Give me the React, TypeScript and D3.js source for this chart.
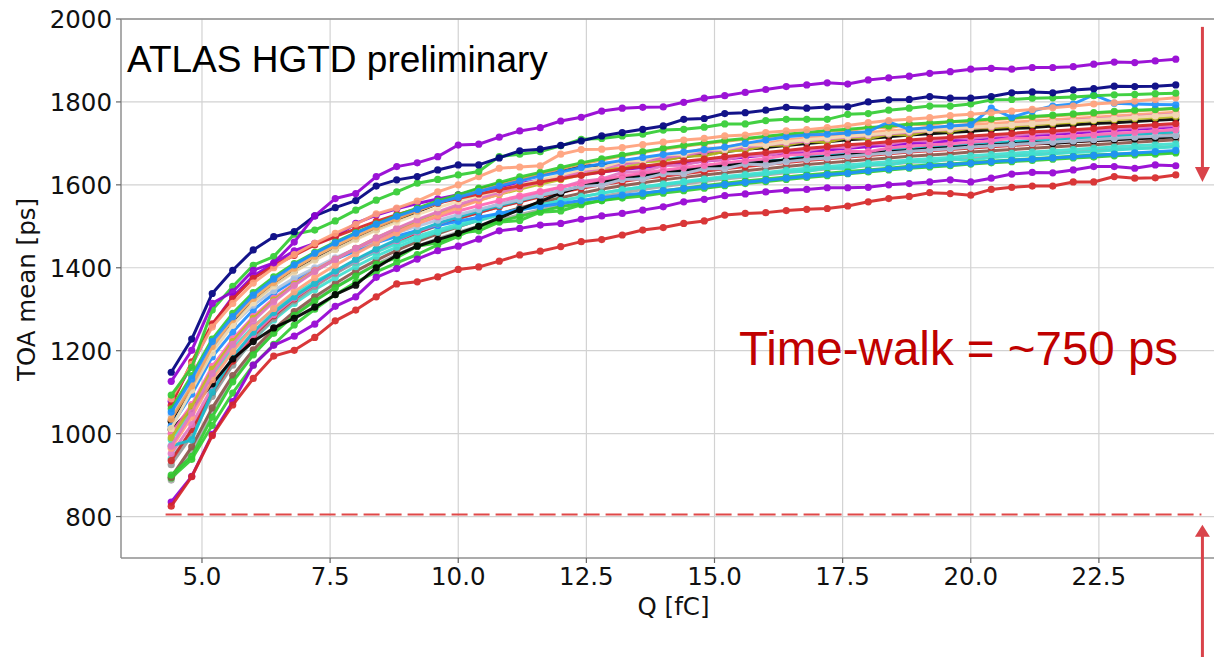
import React from "react";
import * as d3 from "d3";

// Q [fC] sampling points
const charge = [
  4.4, 4.8, 5.2, 5.6, 6.0, 6.4, 6.8, 7.2, 7.6, 8.0,
  8.4, 8.8, 9.2, 9.6, 10.0, 10.4, 10.8, 11.2, 11.6, 12.0,
  12.4, 12.8, 13.2, 13.6, 14.0, 14.4, 14.8, 15.2, 15.6, 16.0,
  16.4, 16.8, 17.2, 17.6, 18.0, 18.4, 18.8, 19.2, 19.6, 20.0,
  20.4, 20.8, 21.2, 21.6, 22.0, 22.4, 22.8, 23.2, 23.6, 24.0,
];

const xTicks = [5, 7.5, 10, 12.5, 15, 17.5, 20, 22.5];
const yTicks = [800, 1000, 1200, 1400, 1600, 1800, 2000];

// TOA mean [ps] per channel
const violetTop = [
  1126, 1201, 1314, 1342, 1394, 1412, 1462, 1525, 1567, 1579,
  1620, 1644, 1653, 1668, 1696, 1698, 1715, 1730, 1738, 1754,
  1763, 1778, 1785, 1787, 1788, 1799, 1809, 1815, 1823, 1830,
  1837, 1841, 1846, 1843, 1853, 1858, 1862, 1869, 1873, 1879,
  1881, 1879, 1883, 1883, 1885, 1891, 1896, 1895, 1899, 1903,
];
const navyTop = [
  1148, 1228, 1338, 1394, 1443, 1475, 1487, 1525, 1545, 1562,
  1597, 1612, 1620, 1636, 1648, 1648, 1665, 1682, 1686, 1695,
  1706, 1718, 1726, 1734, 1742, 1758, 1760, 1772, 1774, 1780,
  1787, 1785, 1788, 1788, 1800, 1805, 1806, 1813, 1809, 1809,
  1813, 1822, 1824, 1822, 1829, 1832, 1838, 1837, 1838, 1841,
];
const redBottom = [
  825, 896, 995, 1069, 1133, 1187, 1201, 1232, 1272, 1298,
  1330, 1361, 1366, 1378, 1396, 1402, 1416, 1431, 1440, 1451,
  1463, 1468, 1479, 1491, 1497, 1507, 1513, 1527, 1531, 1533,
  1538, 1541, 1543, 1549, 1559, 1567, 1572, 1581, 1579, 1575,
  1589, 1594, 1597, 1597, 1607, 1607, 1620, 1616, 1617, 1624,
];
const violetBottom = [
  835, 897, 998, 1077, 1165, 1213, 1235, 1264, 1307, 1330,
  1377, 1398, 1421, 1441, 1452, 1469, 1489, 1495, 1503, 1507,
  1517, 1525, 1531, 1539, 1547, 1559, 1565, 1574, 1578, 1583,
  1587, 1589, 1593, 1593, 1594, 1600, 1603, 1607, 1612, 1607,
  1616, 1626, 1630, 1629, 1636, 1644, 1644, 1640, 1648, 1646,
];
const greenTop = [
  1093, 1160, 1298, 1355, 1406, 1427, 1481, 1491, 1513, 1539,
  1563, 1583, 1604, 1613, 1624, 1632, 1668, 1674, 1680, 1694,
  1710, 1712, 1718, 1722, 1732, 1734, 1739, 1747, 1747, 1755,
  1758, 1758, 1758, 1770, 1772, 1780, 1785, 1790, 1790, 1795,
  1805, 1806, 1809, 1810, 1812, 1815, 1817, 1818, 1820, 1821,
];
const salmonA = [
  1084, 1167, 1257, 1314, 1363, 1400, 1432, 1459, 1483, 1505,
  1530, 1544, 1561, 1583, 1600, 1620, 1640, 1643, 1646, 1674,
  1685, 1686, 1690, 1697, 1703, 1708, 1712, 1718, 1720, 1726,
  1730, 1733, 1738, 1743, 1750, 1755, 1758, 1762, 1767, 1770,
  1774, 1778, 1782, 1786, 1790, 1795, 1798, 1802, 1806, 1810,
];
const blueSpiky = [
  1052, 1132, 1222, 1282, 1334, 1373, 1407, 1435, 1460, 1483,
  1505, 1524, 1541, 1557, 1570, 1584, 1597, 1609, 1621, 1631,
  1642, 1651, 1659, 1666, 1673, 1679, 1685, 1691, 1700, 1708,
  1716, 1720, 1722, 1725, 1728, 1752, 1734, 1738, 1742, 1745,
  1785, 1763, 1778, 1790, 1795, 1817, 1797, 1795, 1794, 1793,
];
const redUpper = [
  1068, 1173, 1265, 1325, 1374, 1405, 1430, 1455, 1475, 1494,
  1512, 1528, 1542, 1556, 1567, 1578, 1588, 1598, 1607, 1615,
  1623, 1631, 1638, 1645, 1651, 1657, 1662, 1668, 1673, 1678,
  1683, 1688, 1692, 1697, 1700, 1704, 1708, 1712, 1714, 1718,
  1721, 1724, 1728, 1730, 1733, 1736, 1740, 1742, 1745, 1748,
];
const blackLower = [
  1010, 1060, 1120, 1180, 1222, 1255, 1278, 1305, 1335, 1358,
  1400, 1430, 1452, 1468, 1483, 1500, 1520, 1540, 1560, 1580,
  1597, 1608, 1616, 1624, 1630, 1636, 1641, 1647, 1651, 1656,
  1660, 1664, 1668, 1672, 1676, 1680, 1683, 1687, 1690, 1693,
  1696, 1699, 1702, 1700, 1704, 1707, 1709, 1711, 1713, 1716,
];
const blackUpper = [
  1030, 1110, 1200, 1265, 1318, 1358, 1392, 1420, 1445, 1470,
  1492, 1515, 1535, 1555, 1575, 1590, 1602, 1612, 1626, 1636,
  1644, 1648, 1652, 1656, 1662, 1668, 1674, 1680, 1686, 1690,
  1695, 1700, 1704, 1709, 1712, 1716, 1720, 1723, 1726, 1729,
  1733, 1736, 1738, 1742, 1745, 1748, 1750, 1753, 1756, 1758,
];
const olive = [
  990, 1065, 1155, 1222, 1278, 1322, 1360, 1392, 1420, 1447,
  1472, 1494, 1514, 1532, 1548, 1563, 1577, 1590, 1602, 1613,
  1624, 1638, 1640, 1655, 1658, 1669, 1670, 1681, 1684, 1695,
  1696, 1705, 1703, 1714, 1712, 1722, 1720, 1731, 1729, 1737,
  1738, 1741, 1745, 1748, 1751, 1755, 1757, 1760, 1762, 1765,
];
const pinkA = [
  952, 1022, 1112, 1183, 1240, 1287, 1327, 1360, 1390, 1418,
  1443, 1466, 1487, 1506, 1523, 1539, 1554, 1568, 1581, 1594,
  1608, 1614, 1630, 1632, 1646, 1647, 1659, 1660, 1671, 1670,
  1681, 1682, 1691, 1690, 1699, 1698, 1707, 1706, 1714, 1712,
  1717, 1720, 1723, 1726, 1730, 1732, 1735, 1738, 1741, 1744,
];
const turquoiseA = [
  940, 1005, 1095, 1167, 1226, 1274, 1314, 1347, 1376, 1403,
  1428, 1450, 1469, 1486, 1500, 1514, 1527, 1539, 1550, 1561,
  1571, 1580, 1588, 1595, 1600, 1606, 1612, 1617, 1622, 1626,
  1632, 1632, 1641, 1639, 1649, 1647, 1657, 1654, 1663, 1659,
  1666, 1669, 1672, 1675, 1678, 1680, 1684, 1687, 1689, 1692,
];
const grayA = [
  888, 958, 1055, 1130, 1192, 1244, 1287, 1322, 1353, 1382,
  1408, 1432, 1452, 1470, 1486, 1501, 1515, 1528, 1540, 1551,
  1562, 1572, 1581, 1589, 1596, 1602, 1608, 1614, 1619, 1624,
  1629, 1634, 1638, 1642, 1646, 1650, 1654, 1657, 1660, 1664,
  1667, 1670, 1673, 1676, 1679, 1682, 1685, 1688, 1690, 1693,
];
const cyanA = [
  970, 985, 1100, 1185, 1245, 1292, 1330, 1362, 1392, 1420,
  1445, 1468, 1489, 1507, 1522, 1537, 1550, 1562, 1574, 1585,
  1596, 1606, 1615, 1622, 1630, 1636, 1642, 1648, 1653, 1658,
  1660, 1671, 1669, 1679, 1677, 1687, 1685, 1694, 1691, 1700,
  1701, 1704, 1707, 1710, 1713, 1716, 1719, 1722, 1725, 1728,
];
const wheat = [
  1012, 1105, 1195, 1262, 1316, 1356, 1390, 1418, 1444, 1468,
  1490, 1510, 1528, 1545, 1560, 1574, 1587, 1600, 1612, 1624,
  1637, 1642, 1657, 1659, 1673, 1674, 1686, 1686, 1697, 1696,
  1704, 1709, 1713, 1717, 1721, 1725, 1729, 1732, 1735, 1739,
  1742, 1745, 1748, 1751, 1754, 1757, 1760, 1763, 1766, 1769,
];
const steelBlue = [
  1045, 1120, 1205, 1262, 1310, 1345, 1375, 1400, 1424, 1446,
  1466, 1484, 1500, 1515, 1528, 1541, 1553, 1564, 1575, 1585,
  1596, 1599, 1613, 1614, 1627, 1627, 1639, 1639, 1650, 1648,
  1656, 1661, 1665, 1669, 1673, 1677, 1681, 1684, 1687, 1691,
  1694, 1697, 1700, 1703, 1706, 1709, 1712, 1715, 1717, 1719,
];
const sandy = [
  1035, 1115, 1210, 1275, 1326, 1365, 1399, 1428, 1453, 1476,
  1498, 1518, 1537, 1555, 1571, 1586, 1600, 1613, 1626, 1638,
  1650, 1660, 1670, 1678, 1686, 1693, 1699, 1705, 1710, 1715,
  1722, 1721, 1731, 1729, 1739, 1737, 1747, 1744, 1753, 1751,
  1757, 1760, 1763, 1766, 1769, 1772, 1775, 1778, 1781, 1784,
];
const brown = [
  895, 968, 1062, 1140, 1202, 1252, 1294, 1330, 1362, 1392,
  1418, 1442, 1463, 1482, 1499, 1515, 1530, 1544, 1557, 1569,
  1580, 1590, 1598, 1605, 1612, 1618, 1624, 1629, 1634, 1639,
  1644, 1649, 1653, 1657, 1661, 1665, 1669, 1672, 1675, 1679,
  1682, 1685, 1688, 1691, 1694, 1697, 1700, 1703, 1706, 1709,
];
const hotPink = [
  1000, 1070, 1162, 1228, 1282, 1326, 1362, 1394, 1421, 1446,
  1469, 1489, 1507, 1523, 1537, 1550, 1562, 1573, 1584, 1594,
  1604, 1613, 1621, 1628, 1635, 1641, 1647, 1653, 1658, 1663,
  1672, 1673, 1677, 1681, 1680, 1689, 1693, 1696, 1699, 1703,
  1706, 1713, 1712, 1715, 1718, 1721, 1724, 1727, 1730, 1733,
];
const greenLow = [
  900, 945, 1040, 1125, 1190, 1242, 1285, 1320, 1352, 1380,
  1408, 1424, 1452, 1460, 1483, 1489, 1510, 1514, 1534, 1537,
  1552, 1562, 1571, 1579, 1586, 1592, 1598, 1604, 1609, 1614,
  1619, 1624, 1628, 1632, 1636, 1640, 1645, 1648, 1650, 1654,
  1657, 1660, 1663, 1666, 1669, 1672, 1674, 1676, 1678, 1680,
];
const greenLowest = [
  893, 938, 1020, 1098, 1165, 1215, 1262, 1300, 1335, 1365,
  1390, 1412, 1432, 1455, 1476, 1499, 1512, 1524, 1536, 1547,
  1555, 1562, 1568, 1573, 1580, 1586, 1592, 1598, 1603, 1608,
  1613, 1618, 1622, 1627, 1631, 1636, 1640, 1643, 1646, 1650,
  1653, 1656, 1659, 1662, 1665, 1667, 1670, 1672, 1674, 1677,
];
const greenUpper = [
  1060, 1140, 1228, 1290, 1340, 1378, 1410, 1437, 1462, 1485,
  1506, 1526, 1544, 1561, 1576, 1592, 1606, 1619, 1630, 1642,
  1653, 1663, 1672, 1680, 1688, 1695, 1701, 1707, 1712, 1717,
  1722, 1726, 1731, 1734, 1738, 1742, 1746, 1749, 1752, 1755,
  1759, 1762, 1765, 1768, 1771, 1774, 1777, 1780, 1782, 1785,
];
const blueLow = [
  1018, 1095, 1185, 1245, 1298, 1338, 1370, 1396, 1420, 1441,
  1460, 1476, 1490, 1502, 1512, 1522, 1531, 1540, 1548, 1555,
  1562, 1569, 1575, 1580, 1586, 1591, 1596, 1601, 1606, 1611,
  1616, 1621, 1625, 1628, 1634, 1638, 1642, 1646, 1649, 1652,
  1656, 1659, 1662, 1665, 1668, 1671, 1674, 1677, 1680, 1683,
];
const salmonB = [
  965, 1040, 1130, 1198, 1256, 1302, 1342, 1376, 1406, 1434,
  1460, 1484, 1506, 1526, 1545, 1562, 1578, 1593, 1607, 1620,
  1635, 1640, 1656, 1659, 1673, 1675, 1688, 1689, 1701, 1700,
  1708, 1713, 1718, 1722, 1726, 1730, 1734, 1738, 1741, 1745,
  1748, 1751, 1754, 1757, 1760, 1763, 1766, 1769, 1772, 1775,
];
const violetMid = [
  1078, 1165, 1262, 1330, 1380, 1410, 1441, 1459, 1475, 1507,
  1527, 1542, 1555, 1566, 1576, 1586, 1595, 1603, 1611, 1618,
  1625, 1631, 1637, 1642, 1647, 1652, 1657, 1662, 1667, 1672,
  1676, 1680, 1684, 1688, 1692, 1696, 1700, 1703, 1706, 1710,
  1713, 1716, 1719, 1722, 1725, 1728, 1731, 1734, 1737, 1740,
];
const redMid = [
  935, 1010, 1100, 1175, 1236, 1284, 1325, 1360, 1390, 1418,
  1443, 1465, 1485, 1503, 1519, 1533, 1547, 1559, 1571, 1582,
  1592, 1600, 1608, 1615, 1621, 1627, 1633, 1639, 1644, 1649,
  1654, 1659, 1663, 1667, 1671, 1675, 1679, 1682, 1685, 1689,
  1692, 1695, 1698, 1701, 1704, 1707, 1710, 1713, 1716, 1719,
];
const grayB = [
  925, 995, 1090, 1165, 1228, 1278, 1320, 1355, 1386, 1414,
  1440, 1463, 1484, 1502, 1518, 1533, 1547, 1560, 1573, 1585,
  1596, 1605, 1613, 1620, 1627, 1633, 1639, 1645, 1650, 1655,
  1660, 1665, 1669, 1673, 1677, 1681, 1685, 1688, 1691, 1695,
  1700, 1698, 1707, 1704, 1713, 1710, 1719, 1716, 1725, 1722,
];
const turquoiseB = [
  985, 1055, 1140, 1205, 1258, 1300, 1336, 1366, 1392, 1416,
  1438, 1458, 1476, 1491, 1505, 1518, 1530, 1541, 1552, 1562,
  1571, 1580, 1588, 1595, 1602, 1608, 1614, 1620, 1625, 1630,
  1635, 1640, 1644, 1648, 1652, 1656, 1660, 1663, 1666, 1670,
  1673, 1676, 1679, 1682, 1685, 1688, 1691, 1694, 1697, 1699,
];
const pinkB = [
  970, 1050, 1145, 1215, 1272, 1318, 1357, 1391, 1420, 1447,
  1472, 1495, 1516, 1535, 1552, 1568, 1582, 1595, 1607, 1619,
  1630, 1640, 1649, 1657, 1665, 1672, 1679, 1685, 1691, 1696,
  1701, 1706, 1711, 1715, 1719, 1723, 1727, 1731, 1734, 1738,
  1741, 1745, 1748, 1751, 1755, 1758, 1761, 1764, 1767, 1770,
];

const series = [
  { values: grayA, color: "#a9a9a9" },
  { values: blackUpper, color: "#000000" },
  { values: violetMid, color: "#9400d3" },
  { values: greenLowest, color: "#32cd32" },
  { values: brown, color: "#8c564b" },
  { values: turquoiseA, color: "#40e0d0" },
  { values: grayB, color: "#9a9a9a" },
  { values: redMid, color: "#d62728" },
  { values: greenLow, color: "#32cd32" },
  { values: turquoiseB, color: "#40e0d0" },
  { values: blueLow, color: "#1e90ff" },
  { values: pinkA, color: "#e377c2" },
  { values: cyanA, color: "#17becf" },
  { values: blackLower, color: "#000000" },
  { values: steelBlue, color: "#b0c4de" },
  { values: hotPink, color: "#ff69b4" },
  { values: olive, color: "#bcbd22" },
  { values: salmonB, color: "#ffa07a" },
  { values: pinkB, color: "#e377c2" },
  { values: wheat, color: "#f5deb3" },
  { values: sandy, color: "#f4a460" },
  { values: redUpper, color: "#d62728" },
  { values: greenUpper, color: "#32cd32" },
  { values: blueSpiky, color: "#1e90ff" },
  { values: salmonA, color: "#ffa07a" },
  { values: greenTop, color: "#32cd32" },
  { values: violetBottom, color: "#9400d3" },
  { values: redBottom, color: "#d62728" },
  { values: navyTop, color: "#000080" },
  { values: violetTop, color: "#9400d3" },
];

// annotation values (data units)
const walkLevel = 805;
const arrowQ = 24.52;
const arrowDown = [1981, 1607];
const arrowUp = [461, 780];

export default function App() {
  const width = 1214;
  const height = 657;
  const x = d3.scaleLinear().domain([3.42, 24.98]).range([121, 1226]);
  const y = d3.scaleLinear().domain([700, 2000]).range([558, 19]);
  const [x0, x1] = x.range();
  const [yb, yt] = y.range();
  const line = d3
    .line<number>()
    .x((_, i) => x(charge[i]))
    .y((v) => y(v));

  const tickFont = "'DejaVu Sans', sans-serif";
  const arrowColor = "#d9434a";
  const ax = x(arrowQ);

  return (
    <svg
      width={width}
      height={height}
      style={{ position: "absolute", left: 0, top: 0, background: "#fff", overflow: "hidden" }}
    >
      <rect x={0} y={0} width={width} height={height} fill="#fff" />
      {xTicks.map((t) => (
        <line key={"gx" + t} x1={x(t)} x2={x(t)} y1={yt} y2={yb} stroke="#d2d2d2" strokeWidth={1.2} />
      ))}
      {yTicks.map((t) => (
        <line key={"gy" + t} x1={x0} x2={x1} y1={y(t)} y2={y(t)} stroke="#d2d2d2" strokeWidth={1.2} />
      ))}

      <g>
        {series.map((s, k) => (
          <g key={k} opacity={0.92}>
            <path d={line(s.values) || ""} fill="none" stroke={s.color} strokeWidth={3} strokeLinejoin="round" />
            {s.values.map((v, i) => (
              <circle key={i} cx={x(charge[i])} cy={y(v)} r={3.6} fill={s.color} />
            ))}
          </g>
        ))}
      </g>

      <line x1={x0} x2={x0} y1={yt} y2={yb} stroke="#8f8f8f" strokeWidth={1.5} />
      <line x1={x0} x2={x1} y1={yb} y2={yb} stroke="#8f8f8f" strokeWidth={1.5} />
      <line x1={x0} x2={x1} y1={yt} y2={yt} stroke="#8f8f8f" strokeWidth={1.5} />
      <line x1={x1} x2={x1} y1={yt} y2={yb} stroke="#8f8f8f" strokeWidth={1.5} />

      {xTicks.map((t) => (
        <g key={"tx" + t}>
          <line x1={x(t)} x2={x(t)} y1={yb} y2={yb + 5} stroke="#666" strokeWidth={1.2} />
          <text x={x(t)} y={585} textAnchor="middle" fontFamily={tickFont} fontSize={24.5} fill="#111">
            {t.toFixed(1)}
          </text>
        </g>
      ))}
      {yTicks.map((t) => (
        <g key={"ty" + t}>
          <line x1={x0 - 5} x2={x0} y1={y(t)} y2={y(t)} stroke="#666" strokeWidth={1.2} />
          <text x={112} y={y(t) + 9} textAnchor="end" fontFamily={tickFont} fontSize={24.5} fill="#111">
            {t}
          </text>
        </g>
      ))}

      <text x={(x0 + x1) / 2} y={615} textAnchor="middle" fontFamily={tickFont} fontSize={24.5} fill="#111">
        Q [fC]
      </text>
      <text
        transform={`translate(35, ${(yt + yb) / 2 + 1}) rotate(-90)`}
        textAnchor="middle"
        fontFamily={tickFont}
        fontSize={24.5}
        fill="#111"
      >
        TOA mean [ps]
      </text>

      <text x={127} y={72} fontFamily="'Liberation Sans', Arial, sans-serif" fontSize={37} fill="#000">
        ATLAS HGTD preliminary
      </text>
      <text x={739} y={365} fontFamily="'Liberation Sans', Arial, sans-serif" fontSize={47.5} fill="#c00000">
        Time-walk = ~750 ps
      </text>

      <line
        x1={x(4.29)}
        x2={x(24.5)}
        y1={y(walkLevel)}
        y2={y(walkLevel)}
        stroke="#e04848"
        strokeWidth={2}
        strokeDasharray="16,6"
      />

      <line x1={ax} x2={ax} y1={y(arrowDown[0])} y2={y(arrowDown[1]) - 14} stroke={arrowColor} strokeWidth={3} />
      <path
        d={`M${ax - 7.5},${y(arrowDown[1]) - 15} L${ax + 7.5},${y(arrowDown[1]) - 15} L${ax},${y(arrowDown[1])} Z`}
        fill={arrowColor}
      />
      <line x1={ax} x2={ax} y1={y(arrowUp[0])} y2={y(arrowUp[1]) + 11} stroke={arrowColor} strokeWidth={3} />
      <path
        d={`M${ax - 7.5},${y(arrowUp[1]) + 12} L${ax + 7.5},${y(arrowUp[1]) + 12} L${ax},${y(arrowUp[1])} Z`}
        fill={arrowColor}
      />
    </svg>
  );
}
